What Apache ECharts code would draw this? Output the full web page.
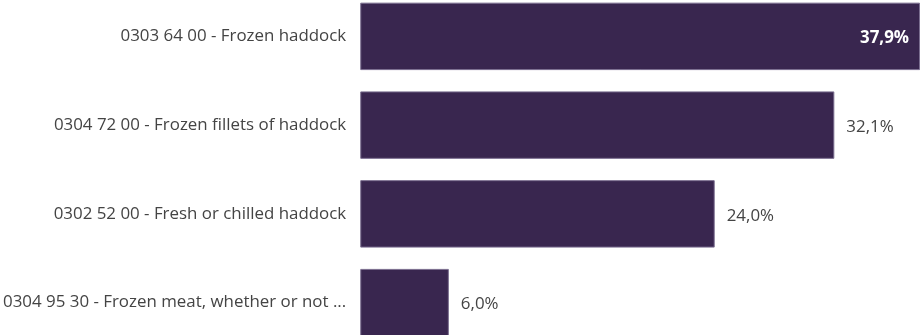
<!DOCTYPE html>
<html>
<head>
<meta charset="utf-8">
<style>
  html, body { margin: 0; padding: 0; background: #fff; overflow: hidden; }
  /* chart is taller than the window: the last bar runs off the bottom */
  #chart { width: 922px; height: 355px; margin-top: -8px; }
</style>
<script src="https://cdn.jsdelivr.net/npm/echarts@6/dist/echarts.min.js"></script>
</head>
<body>
<div id="chart"></div>
<script>
var categories = [
  '0303 64 00 - Frozen haddock',
  '0304 72 00 - Frozen fillets of haddock',
  '0302 52 00 - Fresh or chilled haddock',
  '0304 95 30 - Frozen meat, whether or not ...'
];
var shares = [37.9, 32.1, 24.0, 6.0];

var fmt = function (v) { return v.toFixed(1).replace('.', ',') + '%'; };

var barData = shares.map(function (v, i) {
  var item = { value: v };
  if (i === 0) {
    item.label = { position: 'insideRight', distance: 11, color: '#fff', fontWeight: 'bold' };
  }
  return item;
});

var chart = echarts.init(document.getElementById('chart'));
chart.setOption({
  animation: false,
  grid: { left: 360, right: 2, top: 0, bottom: 0, containLabel: false },
  xAxis: {
    type: 'value', min: 0, max: 37.9,
    show: false
  },
  yAxis: {
    type: 'category', inverse: true, data: categories,
    axisLine: { show: false }, axisTick: { show: false }, splitLine: { show: false },
    axisLabel: {
      margin: 14, color: '#444', fontSize: 16.9, fontFamily: 'Open Sans',
      padding: [4, 0, 0, 0]
    }
  },
  series: [{
    type: 'bar',
    data: barData,
    barCategoryGap: '24%',
    itemStyle: { color: '#39264f', borderColor: '#7b6e90', borderWidth: 1 },
    label: {
      show: true, position: 'right', distance: 12, offset: [0, 2],
      color: '#444', fontSize: 16.9, fontFamily: 'Open Sans',
      formatter: function (p) { return fmt(p.value); }
    }
  }]
});
</script>
</body>
</html>
